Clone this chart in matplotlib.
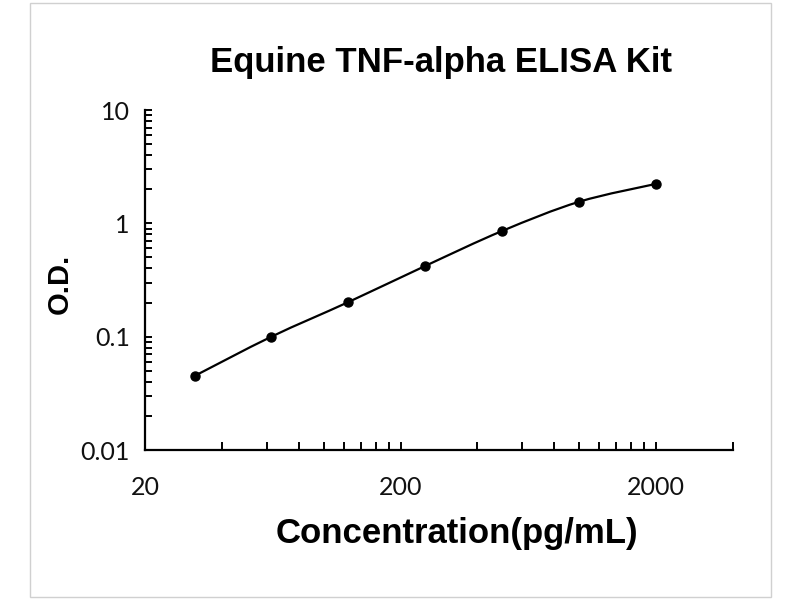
import matplotlib
matplotlib.use("Agg")
import matplotlib.pyplot as plt
import numpy as np
from matplotlib.path import Path
from matplotlib.patches import PathPatch, Rectangle
from matplotlib.ticker import FixedLocator, NullFormatter

# standard curve
concentration = [31.25, 62.5, 125, 250, 500, 1000, 2000]
od = [0.045, 0.100, 0.202, 0.421, 0.857, 1.55, 2.23]

x_ticks = [20, 200, 2000]
x_tick_labels = ['20', '200', '2000']
y_ticks = [0.01, 0.1, 1, 10]
y_tick_labels = ['0.01', '0.1', '1', '10']

title = 'Equine TNF-alpha ELISA Kit'
xlabel = 'Concentration(pg/mL)'
ylabel = 'O.D.'


def smooth_path(xs, ys):
    # excel-like smoothed line, bezier segments in log-log space
    lx, ly = np.log10(xs), np.log10(ys)
    n = len(lx)
    verts = [(lx[0], ly[0])]
    codes = [Path.MOVETO]
    for i in range(n - 1):
        a = max(i - 1, 0)
        b = min(i + 2, n - 1)
        c1 = (lx[i] + (lx[i + 1] - lx[a]) / 6, ly[i] + (ly[i + 1] - ly[a]) / 6)
        c2 = (lx[i + 1] - (lx[b] - lx[i]) / 6, ly[i + 1] - (ly[b] - ly[i]) / 6)
        verts += [c1, c2, (lx[i + 1], ly[i + 1])]
        codes += [Path.CURVE4] * 3
    return Path(10 ** np.array(verts), codes)


fig = plt.figure(figsize=(8, 6), dpi=100)
fig.add_artist(Rectangle((30 / 800, 3 / 600), 741 / 800, 594 / 600,
                         transform=fig.transFigure, fill=False,
                         edgecolor='#d0d0d0', lw=1))

ax = fig.add_axes([145 / 800, 150 / 600, 588 / 800, 340 / 600])
ax.set_xscale('log')
ax.set_yscale('log')
ax.set_xlim(20, 4000)
ax.set_ylim(0.01, 10)

ax.add_patch(PathPatch(smooth_path(concentration, od), fill=False,
                       edgecolor='black', lw=1.6))
ax.plot(concentration, od, 'o', color='black', markersize=6.5)

for s in ['top', 'right']:
    ax.spines[s].set_visible(False)
for s in ['left', 'bottom']:
    ax.spines[s].set_linewidth(1.6)

ax.xaxis.set_major_locator(FixedLocator(x_ticks))
ax.set_xticklabels(x_tick_labels)
minor_x = [20 * k for k in range(2, 10)] + [200 * k for k in range(2, 10)] + [4000]
ax.xaxis.set_minor_locator(FixedLocator(minor_x))
ax.xaxis.set_minor_formatter(NullFormatter())

ax.yaxis.set_major_locator(FixedLocator(y_ticks))
ax.set_yticklabels(y_tick_labels)
minor_y = [m * 10.0 ** e for e in (-2, -1, 0) for m in range(2, 10)]
ax.yaxis.set_minor_locator(FixedLocator(minor_y))
ax.yaxis.set_minor_formatter(NullFormatter())

ax.tick_params(axis='both', which='both', direction='in', width=1.4)
ax.tick_params(axis='x', which='both', length=6, pad=19)
ax.tick_params(axis='y', which='both', length=5, pad=11)
for lab in ax.get_xticklabels() + ax.get_yticklabels():
    lab.set_fontfamily('Lato')
    lab.set_fontsize(18)
    lab.set_color('#111111')

fig.text(441 / 800, 1 - 72 / 600, title, ha='center', va='baseline',
         fontsize=25, fontweight='bold', family='Liberation Sans')
fig.text(457 / 800, 1 - 543 / 600, xlabel, ha='center', va='baseline',
         fontsize=25, fontweight='bold', family='Liberation Sans')
fig.text(68 / 800, 1 - 284 / 600, ylabel, ha='center', va='baseline',
         rotation=90, rotation_mode='anchor',
         fontsize=21, fontweight='bold', family='Liberation Sans')

fig.savefig('out.png', dpi=100)
